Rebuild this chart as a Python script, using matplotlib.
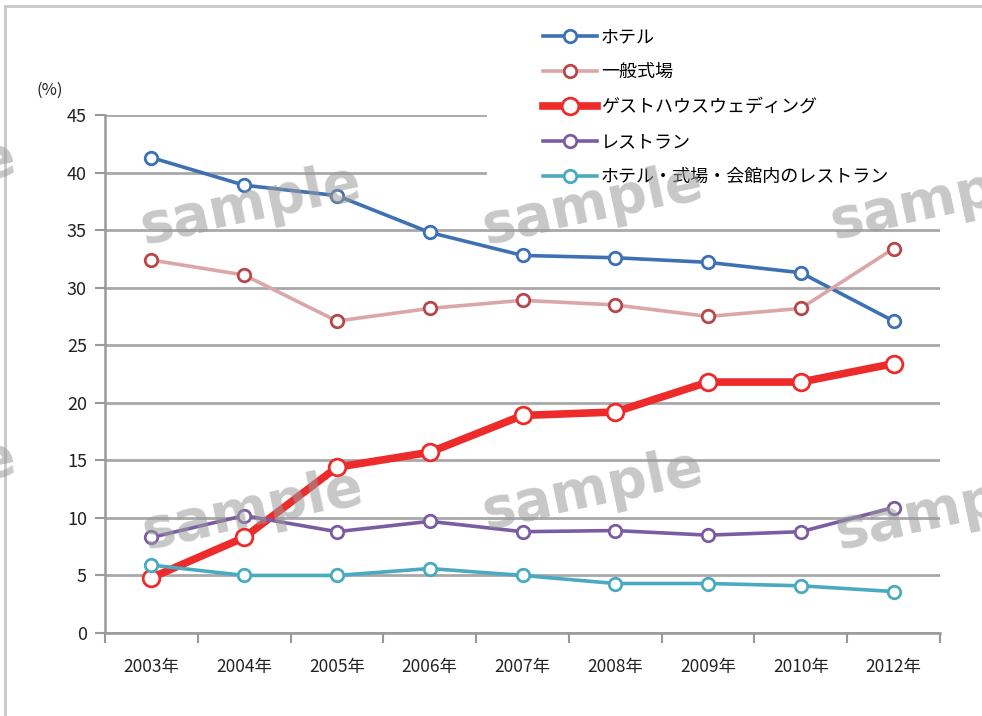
import matplotlib
matplotlib.use("Agg")
import matplotlib.pyplot as plt
from matplotlib.patches import Rectangle

plt.rcParams['font.family'] = ['Noto Sans CJK JP', 'DejaVu Sans']

# データ
years = ['2003年', '2004年', '2005年', '2006年', '2007年', '2008年', '2009年', '2010年', '2012年']
hotel = [41.3, 38.9, 38.0, 34.8, 32.8, 32.6, 32.2, 31.3, 27.1]
ippan = [32.4, 31.1, 27.1, 28.2, 28.9, 28.5, 27.5, 28.2, 33.4]
guest = [4.8, 8.3, 14.4, 15.7, 18.9, 19.2, 21.8, 21.8, 23.4]
restaurant = [8.3, 10.2, 8.8, 9.7, 8.8, 8.9, 8.5, 8.8, 10.9]
hotel_rest = [5.9, 5.0, 5.0, 5.6, 5.0, 4.3, 4.3, 4.1, 3.6]

names = ['ホテル', '一般式場', 'ゲストハウスウェディング', 'レストラン', 'ホテル・式場・会館内のレストラン']
series = [hotel, ippan, guest, restaurant, hotel_rest]
line_colors = ['#3e71b3', '#dba6a8', '#ee2b2b', '#7b5ca3', '#4aaabf']
edge_colors = ['#3e71b3', '#b8474a', '#ee2b2b', '#7b5ca3', '#4aaabf']
widths = [2.6, 2.6, 5.5, 2.6, 2.6]
msizes = [9, 9, 12, 9, 9]

fig = plt.figure(figsize=(9.82, 7.16), dpi=100)
ax = fig.add_axes([105 / 982, 1 - 633 / 716, 835 / 982, 518 / 716])

x = list(range(len(years)))
for ys, nm, lc, ec, lw, ms in zip(series, names, line_colors, edge_colors, widths, msizes):
    ax.plot(x, ys, color=lc, lw=lw, marker='o', ms=ms, mfc='white', mec=ec,
            mew=2, label=nm, zorder=3)

ax.set_xlim(-0.5, len(years) - 0.5)
ax.set_ylim(0, 45)
ax.set_yticks(range(0, 46, 5))
ax.set_xticks(x)
ax.set_xticklabels(years, fontsize=12.5, color='#222222')
ax.set_xticks([i - 0.5 for i in range(len(years) + 1)], minor=True)
ax.tick_params(axis='x', which='major', length=0, pad=18)
ax.tick_params(axis='x', which='minor', length=7, width=1.5, color='#999999')
ax.tick_params(axis='y', length=7, width=1.5, color='#999999', labelsize=13,
               labelcolor='#222222', pad=6)
ax.grid(axis='y', color='#a8a8a8', lw=2, zorder=1)
for s in ['top', 'right']:
    ax.spines[s].set_visible(False)
for s in ['left', 'bottom']:
    ax.spines[s].set_color('#999999')
    ax.spines[s].set_linewidth(1.8)

fig.text(50 / 982, 1 - 90 / 716, '(%)', fontsize=12, color='#222222', ha='center', va='center')

# 凡例の背景(グリッド線を隠す)
fig.patches.append(Rectangle((487 / 982, 1 - 197 / 716), 470 / 982, 182 / 716,
                             transform=fig.transFigure, facecolor='white', edgecolor='none', zorder=1))
leg = fig.legend(loc='upper left', bbox_to_anchor=(543 / 982, 1 - 28 / 716), frameon=False,
                 fontsize=13, handlelength=3.0, handletextpad=0.2, labelspacing=0.94,
                 borderpad=0, borderaxespad=0)
leg.set_zorder(5)

# 透かし
for cx, cy in [(250, 205), (592, 205), (940, 200), (252, 510), (592, 490), (945, 510), (-95, 180), (-95, 480)]:
    fig.text(cx / 982, 1 - cy / 716, 'sample', fontsize=40, fontweight='bold', color='#9a9a9a',
             alpha=0.55, rotation=12, ha='center', va='center', family='DejaVu Sans', zorder=10)

fig.patches.append(Rectangle((5 / 982, -0.1), 1.2, 1 - 6 / 716 + 0.1, transform=fig.transFigure,
                             fill=False, edgecolor='#c8c8c8', lw=2))

fig.savefig('out.png', dpi=100)
